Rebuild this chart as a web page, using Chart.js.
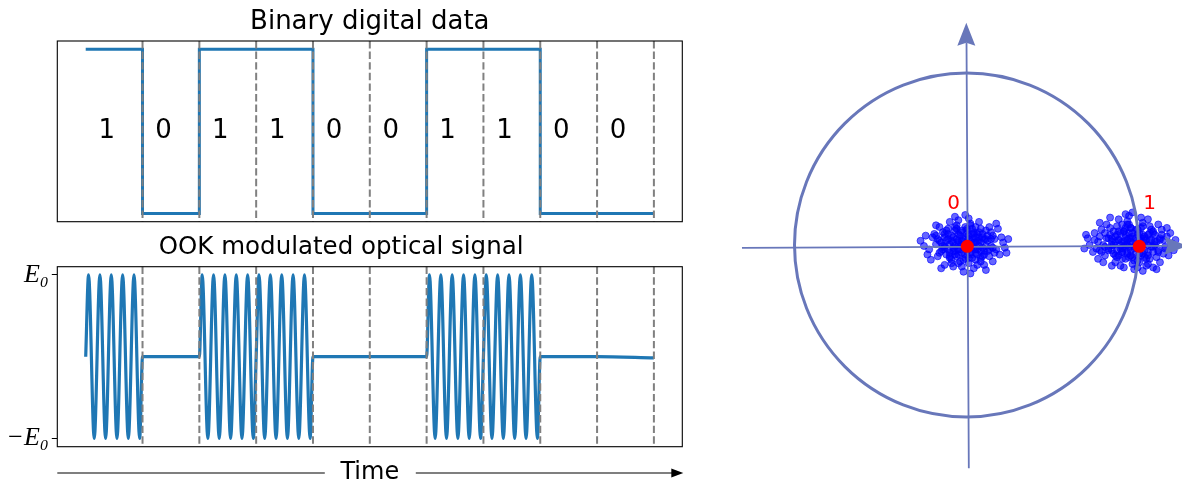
<!DOCTYPE html>
<html>
<head>
<meta charset="utf-8">
<script src="https://cdn.jsdelivr.net/npm/chart.js@4.4.1/dist/chart.umd.min.js"></script>
<style>
  body { margin:0; background:#fff; width:1182px; height:484px; overflow:hidden; position:relative; }
  canvas { position:absolute; }
</style>
</head>
<body>
<canvas id="bits" width="700" height="232" style="left:0;top:0"></canvas>
<canvas id="ook" width="700" height="252" style="left:0;top:232px"></canvas>
<canvas id="iq" width="482" height="484" style="left:700px;top:0"></canvas>
<script>
// bit sequence shown in both time plots
var bits = [1, 0, 1, 1, 0, 0, 1, 1, 0, 0];

// one bit of carrier: zero crossing, then 5 peaks/troughs
var carrierT = [0, 0.05, 0.15, 0.25, 0.35, 0.45, 0.55, 0.65, 0.75, 0.85, 0.95];
var carrierV = [0, 1, -1, 1, -1, 1, -1, 1, -1, 1, -1];
var signalEnd = -0.015;

var ampTicks = [-1, 1];
var ampLabels = ['\u2212E\u2080', 'E\u2080'];

// constellation
var symbols = [0, 1];
var symbolLabels = ['0', '1'];
var circleRadius = [1];
var cloudCenters = [[-0.012, 0.012], [0.96, 0.017]];
// received samples around each symbol, offsets in 1/100 of E0
var noise0 = [[0,0],[3,2],[-4,1],[6,-3],[-7,-2],[2,5],[-2,-5],[9,1],[-10,3],[5,6],
  [-5,-7],[11,-4],[-12,-1],[1,8],[-1,-9],[8,4],[-8,5],[4,-8],[-3,7],[13,2],
  [-14,-4],[7,-6],[-6,8],[10,6],[-11,-6],[15,-1],[-15,2],[0,10],[2,-11],[-9,-8],
  [12,8],[-13,7],[6,10],[-5,11],[17,3],[-17,0],[9,-10],[-8,-11],[3,12],[-2,-13],
  [14,-7],[-16,-7],[18,-3],[-19,4],[1,-3],[-1,3],[4,-1],[-4,-3],[7,2],[-7,1],
  [5,1],[-3,-1],[2,-2],[-2,2],[8,-1],[-9,0],[6,4],[-6,-4],[10,-2],[-10,-3],
  [3,-5],[-3,5],[11,3],[-12,4],[4,6],[-4,-6],[13,-4],[-13,-3],[0,-6],[1,6],
  [16,5],[-18,6],[20,-6],[-21,-3],[9,9],[-10,9],[7,-12],[-7,-13],[22,1],[-26,2],
  [14,10],[-15,10],[5,-14],[-4,14],[19,9],[-20,-9],[23,-2],[-23,5],[11,-12],[-12,-12],
  [2,15],[-1,-16],[16,-10],[-17,11],[21,4],[-22,-6],[8,13],[-9,13],[24,-5],[12,-15],
  [-6,16],[3,-17],[18,12],[-14,-14],[25,3],[-24,-1],[0,17],[6,-9],[-5,9],[15,7],
  [1,1],[-2,0],[3,-1],[-4,2],[5,-2],[-5,3],[6,1],[-6,-1],[2,3],[-1,-2],
  [4,3],[-3,-3],[7,-3],[-8,2],[0,4],[1,-4],[8,2],[-7,4],[3,-6],[-4,6],
  [9,-4],[-9,-5],[10,4],[-11,2],[5,7],[-6,-6],[12,-1],[-12,-2],[2,-8],[-2,8],
  [11,-6],[-10,6],[6,-5],[-7,-4],[13,5],[-14,1],[8,7],[-9,-7],[4,9],[-3,-10],
  [15,3],[-16,3],[14,-3],[-15,-5],[0,-8],[1,9],[7,6],[-8,-9],[10,-7],[-11,8],
  [-13,-1],[16,-2],[-17,5],[17,-5],[3,11],[-4,-11],[12,3],[-12,6],[9,-8],[-6,10]];
var noise1 = [[0,0],[-3,2],[4,-1],[-6,-3],[7,3],[-2,6],[2,-6],[-10,1],[11,-2],[-5,7],
  [5,-7],[-12,-4],[13,1],[-1,9],[1,-10],[-9,5],[9,5],[-4,-9],[3,8],[-14,3],
  [15,-4],[-8,-7],[7,-8],[-11,7],[12,7],[-17,-1],[16,2],[0,-12],[-2,11],[10,-9],
  [-13,9],[14,-8],[-6,11],[6,12],[-19,4],[19,-2],[-10,-11],[9,-12],[-3,13],[3,-14],
  [-16,-7],[17,8],[-21,-3],[20,4],[-1,3],[1,-3],[-4,-1],[4,2],[-7,-1],[7,0],
  [-5,1],[3,-2],[-2,-2],[2,3],[-8,2],[9,-1],[-6,-5],[6,5],[-11,-1],[10,2],
  [-3,-5],[3,5],[-12,1],[12,-5],[-4,5],[4,-6],[-14,-4],[13,5],[0,6],[-1,-7],
  [-18,8],[18,-6],[-22,2],[21,-7],[-9,10],[10,10],[-7,-13],[8,-13],[-25,-1],[23,0],
  [-15,11],[15,11],[-5,-14],[5,15],[-20,-9],[20,9],[-27,5],[24,-4],[-12,-13],[12,-14],
  [-2,16],[1,-15],[-17,-11],[16,-11],[-23,-5],[22,6],[-8,14],[9,14],[-28,-3],[-13,15],
  [6,-16],[-4,17],[-19,12],[14,-15],[-26,3],[25,2],[0,18],[-6,-9],[5,9],[-16,6],
  [-1,1],[2,0],[-3,-1],[4,2],[-5,-2],[5,3],[-6,1],[6,-1],[-2,3],[1,-2],
  [-4,3],[3,-3],[-7,-3],[8,2],[0,4],[-1,-4],[-8,2],[7,4],[-3,-6],[4,6],
  [-9,-4],[9,-5],[-10,4],[11,2],[-5,7],[6,-6],[-12,-1],[12,-2],[-2,-8],[2,8],
  [-11,-6],[10,6],[-6,-5],[7,-4],[-13,5],[14,1],[-8,7],[9,-7],[-4,9],[3,-10],
  [-15,3],[16,3],[-14,-3],[15,-5],[0,-8],[-1,9],[-7,6],[8,-9],[-10,-7],[11,8],
  [13,-1],[-16,-2],[17,5],[-18,-5],[-3,11],[4,-11],[-12,3],[12,6],[-9,-8],[6,10],
  [-20,1],[-19,-4],[18,2],[-22,6],[19,-3]];

Chart.defaults.font.family = 'DejaVu Sans';
Chart.defaults.color = '#000';

var BLUE = '#1f77b4';
var AXC = 'rgb(104,119,186)';

// ---- dashed bit boundaries + frame, used by both time plots
var bitGrid = {
  id: 'bitGrid',
  afterDatasetsDraw: function(chart) {
    var a = chart.chartArea, ctx = chart.ctx, xs = chart.scales.x;
    ctx.save();
    ctx.strokeStyle = '#808080';
    ctx.lineWidth = 2;
    ctx.setLineDash([7.4, 3.2]);
    for (var k = 1; k <= bits.length; k++) {
      var px = xs.getPixelForValue(k);
      ctx.beginPath();
      ctx.moveTo(px, a.top);
      ctx.lineTo(px, a.bottom);
      ctx.stroke();
    }
    ctx.setLineDash([]);
    ctx.strokeStyle = '#000';
    ctx.lineWidth = 1.1;
    ctx.strokeRect(a.left, a.top, a.right - a.left, a.bottom - a.top);
    ctx.restore();
  }
};

var bitText = {
  id: 'bitText',
  afterDraw: function(chart) {
    var ctx = chart.ctx, xs = chart.scales.x, ys = chart.scales.y;
    ctx.save();
    ctx.font = '26px "DejaVu Sans"';
    ctx.textAlign = 'center';
    ctx.textBaseline = 'middle';
    ctx.fillStyle = '#000';
    bits.forEach(function(b, k) {
      ctx.fillText(String(b), xs.getPixelForValue(k + 0.37), ys.getPixelForValue(0.5));
    });
    ctx.restore();
  }
};

var timeArrow = {
  id: 'timeArrow',
  afterDraw: function(chart) {
    var a = chart.chartArea, ctx = chart.ctx;
    var y = 241, mid = (a.left + a.right) / 2;
    ctx.save();
    ctx.font = '24px "DejaVu Sans"';
    ctx.textAlign = 'center';
    ctx.textBaseline = 'middle';
    ctx.fillStyle = '#000';
    ctx.fillText('Time', mid, y);
    ctx.strokeStyle = '#000';
    ctx.lineWidth = 1.2;
    ctx.beginPath();
    ctx.moveTo(a.left, y); ctx.lineTo(mid - 45, y);
    ctx.moveTo(mid + 46, y); ctx.lineTo(a.right - 8, y);
    ctx.stroke();
    ctx.beginPath();
    ctx.moveTo(a.right + 1, y);
    ctx.lineTo(a.right - 11, y - 4.5);
    ctx.lineTo(a.right - 11, y + 4.5);
    ctx.closePath();
    ctx.fill();
    ctx.restore();
  }
};

// ---- top: binary data
var stepData = bits.map(function(b, i) { return {x: i, y: b}; });
stepData.push({x: bits.length, y: bits[bits.length - 1]});

new Chart(document.getElementById('bits'), {
  type: 'line',
  data: { datasets: [{ data: stepData, borderColor: BLUE, borderWidth: 3, pointRadius: 0, stepped: true, fill: false }] },
  options: {
    responsive: false, animation: false, events: [],
    layout: { autoPadding: false, padding: { left: 57.3, right: 17.7, top: 0, bottom: 10.3 } },
    plugins: {
      legend: { display: false }, tooltip: { enabled: false },
      title: { display: true, text: 'Binary digital data', color: '#000',
        font: { size: 26, weight: 'normal', lineHeight: 1.2 }, padding: { top: 6.2, bottom: 3.6 } }
    },
    scales: {
      x: { type: 'linear', min: -0.5, max: 10.5, display: false },
      y: { min: -0.05, max: 1.05, display: false }
    }
  },
  plugins: [bitGrid, bitText]
});

// ---- bottom: OOK signal
var ookData = [];
bits.forEach(function(b, k) {
  if (b) carrierT.forEach(function(t, j) { ookData.push({x: k + t, y: carrierV[j]}); });
  else ookData.push({x: k, y: 0});
});
ookData.push({x: bits.length, y: signalEnd});

new Chart(document.getElementById('ook'), {
  type: 'line',
  data: { datasets: [{ data: ookData, borderColor: BLUE, borderWidth: 3.2, pointRadius: 0,
    cubicInterpolationMode: 'monotone', fill: false }] },
  options: {
    responsive: false, animation: false, events: [],
    layout: { autoPadding: false, padding: { left: 0, right: 17.7, top: 0, bottom: 37.3 } },
    plugins: {
      legend: { display: false }, tooltip: { enabled: false },
      title: { display: true, text: 'OOK modulated optical signal', color: '#000',
        font: { size: 24.5, weight: 'normal', lineHeight: 1.2 }, padding: { top: 0.65, bottom: 4.65 } }
    },
    scales: {
      x: { type: 'linear', min: -0.5, max: 10.5, display: false },
      y: {
        min: -1.1, max: 1.1,
        afterFit: function(s) { s.width = 57.3; },
        afterBuildTicks: function(s) { s.ticks = ampTicks.map(function(v) { return {value: v}; }); },
        border: { display: false },
        grid: { drawOnChartArea: false, color: '#000', tickLength: 5.5, tickWidth: 1 },
        ticks: {
          autoSkip: false, padding: 3, color: '#000',
          font: { family: 'Liberation Serif', style: 'italic', size: 26 },
          callback: function(v) { return ampLabels[ampTicks.indexOf(v)]; }
        }
      }
    }
  },
  plugins: [bitGrid, timeArrow]
});

// ---- right: constellation
function cloud(c, pts) {
  return pts.map(function(p) { return {x: c[0] + p[0] / 100, y: c[1] + p[1] / 100}; });
}

function arrowHead(ctx, tx, ty, dx, dy) {
  // dx,dy unit direction of the arrow
  var L = 23, W = 9, N = 3;
  var bx = tx - dx * L, by = ty - dy * L;
  ctx.beginPath();
  ctx.moveTo(tx, ty);
  ctx.lineTo(bx - dy * W, by + dx * W);
  ctx.lineTo(bx + dx * N, by + dy * N);
  ctx.lineTo(bx + dy * W, by - dx * W);
  ctx.closePath();
  ctx.fill();
}

var iqAxes = {
  id: 'iqAxes',
  afterDatasetDraw: function(chart, args) {
    if (args.index !== 1) return;
    var ctx = chart.ctx, xs = chart.scales.x, ys = chart.scales.y;
    var ox = xs.getPixelForValue(0), oy = ys.getPixelForValue(0);
    ctx.save();
    ctx.strokeStyle = AXC; ctx.fillStyle = AXC;
    // circle of radius E0
    var r = xs.getPixelForValue(circleRadius[0]) - ox;
    ctx.lineWidth = 3;
    ctx.beginPath();
    ctx.arc(ox - 0.8, oy - 1.3, r, 0, Math.PI * 2);
    ctx.stroke();
    // real / imaginary axes
    var xl = xs.getPixelForValue(-1.31), xr = xs.getPixelForValue(1.28);
    var yb = ys.getPixelForValue(-1.29), yt = ys.getPixelForValue(1.30);
    ctx.lineWidth = 1.8;
    ctx.beginPath();
    ctx.moveTo(xl, oy + 1.5); ctx.lineTo(xr - 20, oy - 0.5);
    ctx.moveTo(ox + 1.5, yb); ctx.lineTo(ox - 0.8, yt + 20);
    ctx.stroke();
    arrowHead(ctx, xr, oy - 0.5, 1, 0);
    arrowHead(ctx, ox - 1, yt, 0, -1);
    ctx.restore();
  },
  afterDraw: function(chart) {
    var ctx = chart.ctx, xs = chart.scales.x, ys = chart.scales.y;
    var dx = [-0.08, 0.06];
    ctx.save();
    ctx.font = '20px "DejaVu Sans"';
    ctx.fillStyle = '#ff0000';
    ctx.textAlign = 'center';
    ctx.textBaseline = 'middle';
    symbols.forEach(function(s, i) {
      ctx.fillText(symbolLabels[i], xs.getPixelForValue(s + dx[i]), ys.getPixelForValue(0.245));
    });
    ctx.restore();
  }
};

var cloudStyle = { pointRadius: 3.5, borderWidth: 1,
  backgroundColor: 'rgba(0,0,255,0.6)', borderColor: 'rgba(0,0,255,0.62)' };

new Chart(document.getElementById('iq'), {
  type: 'scatter',
  data: {
    datasets: [
      Object.assign({ data: cloud(cloudCenters[0], noise0), order: 3 }, cloudStyle),
      Object.assign({ data: cloud(cloudCenters[1], noise1), order: 2 }, cloudStyle),
      { data: symbols.map(function(s) { return {x: s, y: 0}; }), order: 0,
        pointRadius: 6.5, borderWidth: 0, backgroundColor: '#ff0000' }
    ]
  },
  options: {
    responsive: false, animation: false, events: [],
    layout: { autoPadding: false, padding: 0 },
    plugins: { legend: { display: false }, tooltip: { enabled: false } },
    scales: {
      x: { type: 'linear', min: -1.554, max: 1.248, display: false },
      y: { type: 'linear', min: -1.382, max: 1.432, display: false }
    }
  },
  plugins: [iqAxes]
});
</script>
</body>
</html>
